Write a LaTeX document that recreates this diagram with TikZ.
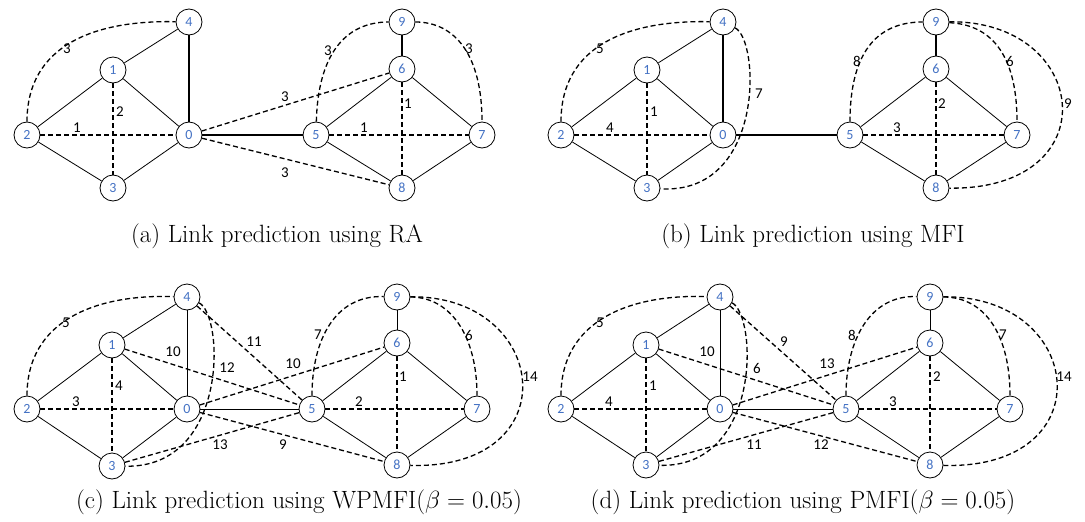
\documentclass[tikz,border=0pt]{standalone}
\usepackage{fontspec}
\newfontfamily\calib{Carlito}
\definecolor{nodeblue}{RGB}{68,114,196}
\tikzset{
	vtx/.style={draw,circle,fill=white,minimum size=26pt,inner sep=0pt,line width=0.8pt,text=nodeblue,font=\calib\fontsize{14}{16}\selectfont},
	lbl/.style={font=\calib\fontsize{15}{17}\selectfont,inner sep=0pt},
	thn/.style={line width=0.8pt},
	thk/.style={line width=2.6pt},
	dsh/.style={line width=1.3pt,dash pattern=on 5pt off 3pt},
	subcap/.style={font=\fontsize{25}{29}\selectfont,inner sep=0pt}
}
\begin{document}
\begin{tikzpicture}[x=1pt,y=-1pt]
	\useasboundingbox (0,0) rectangle (1085,522);
	
	% (a) RA
	\foreach \n/\x/\y in {0/189/135,1/113/70,2/27/135,3/113/188,4/189/22,5/316/135,6/402/69,7/482/135,8/402/188,9/402/22}
		\node[vtx] (a\n) at (\x,\y) {\n};
	\foreach \u/\v in {1/4,2/1,1/0,2/3,3/0,6/5,6/7,5/8,7/8}
		\draw[thn] (a\u) -- (a\v);
	\foreach \u/\v in {4/0,9/6,0/5}
		\draw[thk] (a\u) -- (a\v);
	\foreach \u/\v in {2/0,1/3,0/6,0/8,5/7,6/8}
		\draw[dsh] (a\u) -- (a\v);
	\draw[dsh] (a2) .. controls (27,45) and (95,20) .. (a4);
	\draw[dsh] (a5) .. controls (318,55) and (345,22) .. (a9);
	\draw[dsh] (a9) .. controls (455,22) and (482,55) .. (a7);
	\node[lbl] (la1) at (67,49) {3};
	\node[lbl] (la2) at (120,112) {2};
	\node[lbl] (la3) at (77,128) {1};
	\node[lbl] (la4) at (285,97) {3};
	\node[lbl] (la5) at (285,173) {3};
	\node[lbl] (la6) at (328,51) {3};
	\node[lbl] (la7) at (469,49) {3};
	\node[lbl] (la8) at (364,128) {1};
	\node[lbl] (la9) at (408,104) {1};
	\node[subcap] (capa) at (277,236) {(a) Link prediction using RA};
	
	% (b) MFI
	\foreach \n/\x/\y in {0/723/135,1/647/70,2/561/135,3/647/188,4/723/22,5/850/135,6/936/69,7/1017/135,8/936/188,9/936/22}
		\node[vtx] (b\n) at (\x,\y) {\n};
	\foreach \u/\v in {1/4,2/1,1/0,2/3,3/0,6/5,6/7,5/8,7/8}
		\draw[thn] (b\u) -- (b\v);
	\foreach \u/\v in {4/0,9/6,0/5}
		\draw[thk] (b\u) -- (b\v);
	\foreach \u/\v in {2/0,1/3,5/7,6/8}
		\draw[dsh] (b\u) -- (b\v);
	\draw[dsh] (b2) .. controls (561,45) and (629,20) .. (b4);
	\draw[dsh] (b4) .. controls (760,40) and (765,195) .. (b3);
	\draw[dsh] (b5) .. controls (850,55) and (875,22) .. (b9);
	\draw[dsh] (b9) .. controls (995,25) and (1017,60) .. (b7);
	\draw[dsh] (b9) .. controls (1090,20) and (1110,190) .. (b8);
	\node[lbl] (lb1) at (600,49) {5};
	\node[lbl] (lb2) at (654,112) {1};
	\node[lbl] (lb3) at (610,128) {4};
	\node[lbl] (lb4) at (759,94) {7};
	\node[lbl] (lb5) at (857,61) {8};
	\node[lbl] (lb6) at (1010,61) {6};
	\node[lbl] (lb7) at (1068,104) {9};
	\node[lbl] (lb8) at (942,104) {2};
	\node[lbl] (lb9) at (897,128) {3};
	\node[subcap] (capb) at (813,236) {(b) Link prediction using MFI};
	
	% (c) WPMFI
	\foreach \n/\x/\y in {0/187/409,1/112/345,2/27/409,3/112/466,4/187/297,5/312/409,6/397/343,7/477/409,8/397/465,9/397/297}
		\node[vtx] (c\n) at (\x,\y) {\n};
	\foreach \u/\v in {1/4,2/1,1/0,2/3,3/0,4/0,9/6,0/5,6/5,6/7,5/8,7/8}
		\draw[thn] (c\u) -- (c\v);
	\foreach \u/\v in {2/0,1/3,6/8,5/7,1/5,4/5,0/6,3/5,0/8}
		\draw[dsh] (c\u) -- (c\v);
	\draw[dsh] (c2) .. controls (27,321) and (95,294) .. (c4);
	\draw[dsh] (c4) .. controls (224,315) and (229,468) .. (c3);
	\draw[dsh] (c5) .. controls (312,340) and (335,295) .. (c9);
	\draw[dsh] (c9) .. controls (450,297) and (477,335) .. (c7);
	\draw[dsh] (c9) .. controls (550,295) and (570,470) .. (c8);
	\node[lbl] (lc1) at (66,323) {5};
	\node[lbl] (lc2) at (119,386) {4};
	\node[lbl] (lc3) at (76,402) {3};
	\node[lbl] (lc4) at (173,352) {10};
	\node[lbl] (lc5) at (227,368) {12};
	\node[lbl] (lc6) at (254,342) {11};
	\node[lbl] (lc7) at (293,364) {10};
	\node[lbl] (lc8) at (220,445) {13};
	\node[lbl] (lc9) at (283,445) {9};
	\node[lbl] (lc10) at (318,335) {7};
	\node[lbl] (lc11) at (469,335) {6};
	\node[lbl] (lc12) at (530,377) {14};
	\node[lbl] (lc13) at (403,377) {1};
	\node[lbl] (lc14) at (359,402) {2};
	\node[subcap] (capc) at (299,502) {(c) Link prediction using WPMFI($\beta=0.05$)};
	
	% (d) PMFI
	\foreach \n/\x/\y in {0/720/409,1/646/345,2/561/409,3/646/465,4/720/297,5/846/409,6/930/343,7/1010/409,8/930/465,9/930/297}
		\node[vtx] (d\n) at (\x,\y) {\n};
	\foreach \u/\v in {1/4,2/1,1/0,2/3,3/0,4/0,9/6,0/5,6/5,6/7,5/8,7/8}
		\draw[thn] (d\u) -- (d\v);
	\foreach \u/\v in {2/0,1/3,6/8,5/7,1/5,4/5,0/6,3/5,0/8}
		\draw[dsh] (d\u) -- (d\v);
	\draw[dsh] (d2) .. controls (561,321) and (629,294) .. (d4);
	\draw[dsh] (d4) .. controls (757,315) and (762,468) .. (d3);
	\draw[dsh] (d5) .. controls (846,340) and (870,295) .. (d9);
	\draw[dsh] (d9) .. controls (985,297) and (1010,335) .. (d7);
	\draw[dsh] (d9) .. controls (1085,295) and (1105,470) .. (d8);
	\node[lbl] (ld1) at (600,323) {5};
	\node[lbl] (ld2) at (653,386) {1};
	\node[lbl] (ld3) at (609,402) {4};
	\node[lbl] (ld4) at (707,352) {10};
	\node[lbl] (ld5) at (757,368) {6};
	\node[lbl] (ld6) at (784,342) {9};
	\node[lbl] (ld7) at (827,364) {13};
	\node[lbl] (ld8) at (754,445) {11};
	\node[lbl] (ld9) at (821,445) {12};
	\node[lbl] (ld10) at (852,335) {8};
	\node[lbl] (ld11) at (1003,335) {7};
	\node[lbl] (ld12) at (1064,377) {14};
	\node[lbl] (ld13) at (937,377) {2};
	\node[lbl] (ld14) at (893,402) {3};
	\node[subcap] (capd) at (803,502) {(d) Link prediction using PMFI($\beta=0.05$)};
\end{tikzpicture}
\end{document}
